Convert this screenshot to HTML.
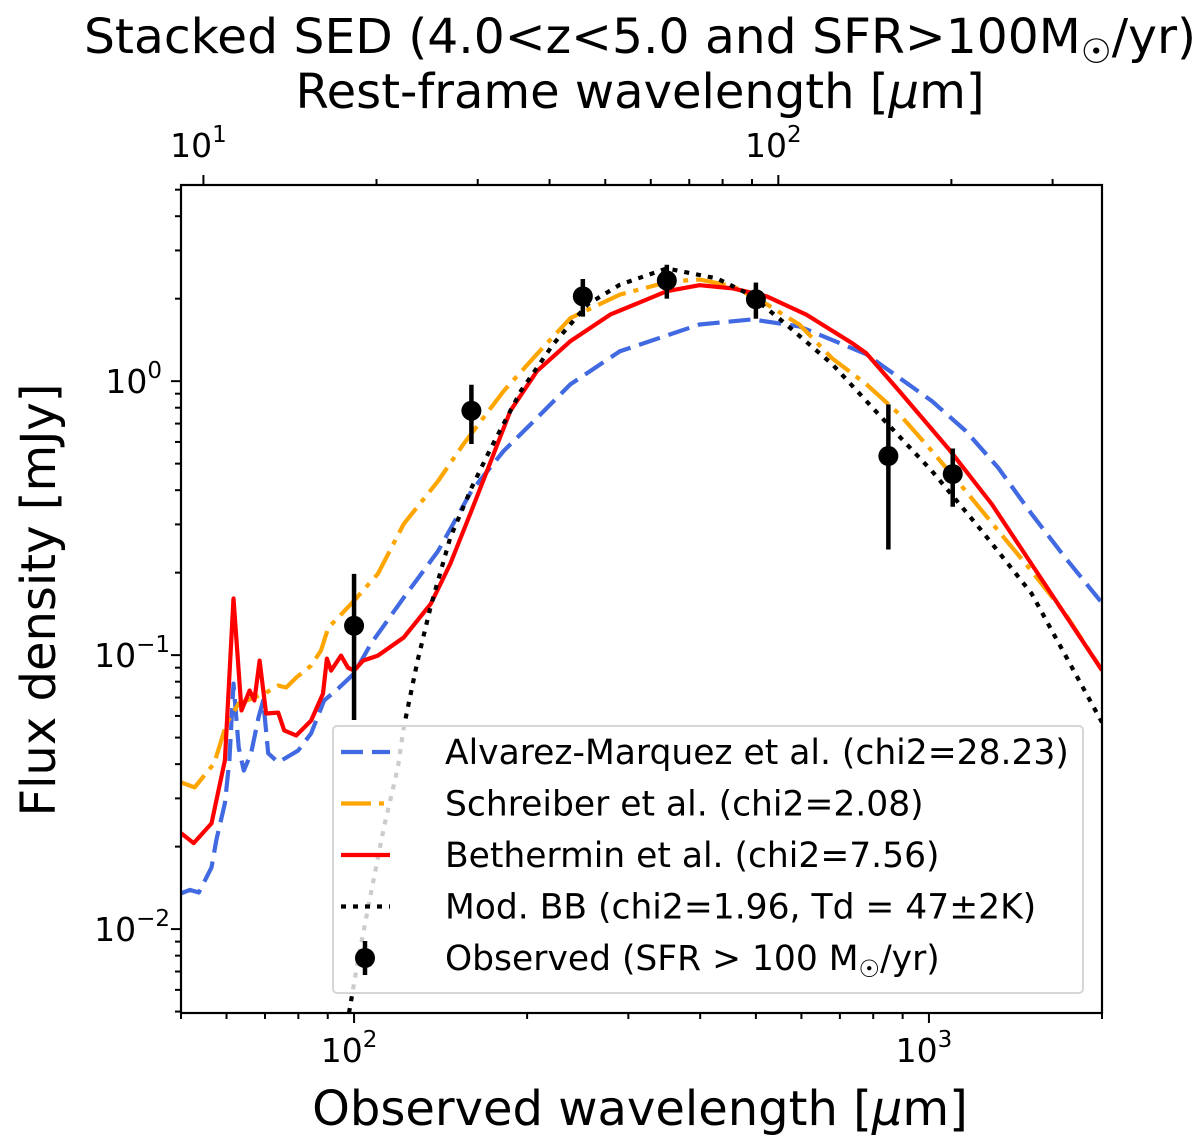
<!DOCTYPE html>
<html><head><meta charset="utf-8"><style>
html,body{margin:0;padding:0;background:#fff;}
svg{display:block;font-family:"DejaVu Sans","Liberation Sans",sans-serif;}
</style></head><body>
<svg id="chart" width="1200" height="1148" viewBox="0 0 1200 1148" xmlns="http://www.w3.org/2000/svg">
<text x="640" y="53" font-size="48" text-anchor="middle" textLength="1112" lengthAdjust="spacingAndGlyphs">Stacked SED (4.0&lt;z&lt;5.0 and SFR&gt;100M<tspan font-size="34" dy="10">☉</tspan><tspan dy="-10">/yr)</tspan></text>
<text x="640" y="108" font-size="48" text-anchor="middle">Rest-frame wavelength [<tspan font-style="italic">μ</tspan>m]</text>
<text x="640" y="1125" font-size="48" text-anchor="middle">Observed wavelength [<tspan font-style="italic">μ</tspan>m]</text>
<text x="0" y="0" font-size="48" text-anchor="middle" transform="translate(55,600) rotate(-90)">Flux density [mJy]</text>
<g id="clipdefs"><clipPath id="pc"><rect x="181" y="185" width="921" height="828"/></clipPath></g>
<g id="marks" clip-path="url(#pc)"></g>
<g id="legend"></g>
<g id="axes"></g>
</svg>
<script>
const redWl=[50,52.6,56.5,59.6,61.7,63.7,65.8,67.1,68.5,70.3,73.8,75.6,79.3,84.2,88.3,89.7,91.2,94.9,97.6,100,103.7,110,122,136,147,160,173,187,208,238,279,350,399,456,522,612,736,778,888,1083,1286,1508,2000];
const redF=[0.0224,0.0206,0.0243,0.0413,0.161,0.0628,0.0743,0.0683,0.0955,0.0612,0.0617,0.0531,0.0509,0.0577,0.0724,0.0971,0.0878,0.0996,0.090,0.0878,0.0955,0.0996,0.116,0.154,0.215,0.336,0.511,0.778,1.087,1.40,1.75,2.13,2.24,2.18,2.04,1.75,1.375,1.265,0.920,0.565,0.356,0.215,0.088];
const orWl=[50,52.8,57.1,60,63,69.8,73.8,76.2,79.3,84.2,87.6,90.2,93.8,100,110,122,140,155,182,208,238,290,354,399,456,522,595,679,778,888,1012,1159,1321,1508,1726,2000];
const orF=[0.0343,0.0329,0.0403,0.0563,0.0666,0.0724,0.0774,0.0762,0.0828,0.0916,0.104,0.126,0.137,0.158,0.198,0.301,0.432,0.589,0.920,1.254,1.70,2.07,2.31,2.35,2.22,1.91,1.61,1.21,0.975,0.758,0.556,0.397,0.284,0.203,0.1417,0.088];
const blWl=[50,51.8,53.7,56.5,57.6,59.6,60.7,61.7,63,64.3,66.2,68.2,69.5,70.9,73.8,80,84.2,88.7,93.8,100,107,122,140,160,182,208,238,290,354,399,493,595,778,1012,1159,1321,1508,1726,2000];
const blF=[0.0135,0.0139,0.0136,0.0168,0.0211,0.0288,0.0413,0.0787,0.046,0.0379,0.0438,0.0592,0.0683,0.0438,0.0406,0.0449,0.0518,0.0683,0.0755,0.0857,0.110,0.162,0.240,0.397,0.556,0.733,0.975,1.285,1.48,1.61,1.68,1.585,1.254,0.846,0.658,0.482,0.328,0.227,0.155];
const bbWl=[98,101.6,107,112.7,119.2,122,129,136,147,160,173,195,222,255,290,350,428,488,556,679,829,1012,1236,1508,2000];
const bbF=[0.00494,0.0077,0.0135,0.0235,0.0389,0.0544,0.0955,0.151,0.268,0.407,0.570,0.920,1.364,1.91,2.25,2.58,2.37,2.07,1.655,1.153,0.733,0.470,0.284,0.168,0.0568];
const obsWl=[100,160,250,350,500,850,1100];
const obsF=[0.128,0.78,2.04,2.33,1.99,0.533,0.458];
const obsErr=[0.07,0.19,0.32,0.33,0.30,0.29,0.11];
const xTickVals=[100,1000];
const xTickLabels=["10","10"];
const xTickExp=["2","3"];
const yTickVals=[1,0.1,0.01];
const yTickExp=["0","−1","−2"];
const topTickVals=[10,100];
const topTickExp=["1","2"];
const zFactor=5.47;

const X0=181,X1=1102,Y0=185,Y1=1013;
const xmin=Math.log10(50),xmax=Math.log10(2000),ymin=Math.log10(0.00494),ymax=Math.log10(5.2);
function sx(v){return X0+(Math.log10(v)-xmin)/(xmax-xmin)*(X1-X0);}
function sy(v){return Y1-(Math.log10(v)-ymin)/(ymax-ymin)*(Y1-Y0);}
const NS="http://www.w3.org/2000/svg";
function mk(tag,attrs,parent){const e=document.createElementNS(NS,tag);for(const k in attrs)e.setAttribute(k,attrs[k]);parent.appendChild(e);return e;}
const marks=document.getElementById('marks');
function line(wl,f,stroke,dash,name){
  const d=wl.map((w,i)=>(i?'L':'M')+sx(w).toFixed(1)+','+sy(f[i]).toFixed(1)).join('');
  const p=mk('path',{d:d,fill:'none',stroke:stroke,'stroke-width':4.2,'stroke-dasharray':dash,'stroke-linejoin':'round'},marks);
  
  
}
line(blWl,blF,'#4169e1','22 9','alvarez-marquez-line');
line(orWl,orF,'#ffa500','30 8 5 8','schreiber-line');
line(redWl,redF,'#ff0000','none','bethermin-line');
line(bbWl,bbF,'#000','5 7','mod-bb-line');
obsWl.forEach((w,i)=>{
  const g=mk('g',{},marks);
  
  
  mk('line',{x1:sx(w),x2:sx(w),y1:sy(obsF[i]+obsErr[i]),y2:sy(Math.max(obsF[i]-obsErr[i],1e-4)),stroke:'#000','stroke-width':4.5},g);
  mk('circle',{cx:sx(w),cy:sy(obsF[i]),r:10,fill:'#000'},g);
});
const lg=document.getElementById('legend');


mk('rect',{x:333,y:726,width:750,height:267,rx:4,fill:'rgba(255,255,255,0.8)',stroke:'#d6d6d6','stroke-width':2},lg);
const legNames=["Alvarez-Marquez et al. (chi2=28.23)","Schreiber et al. (chi2=2.08)","Bethermin et al. (chi2=7.56)","Mod. BB (chi2=1.96, Td = 47±2K)"];
const legCols=['#4169e1','#ffa500','#ff0000','#000'];
const legDash=['22 9','30 8 5 8','none','5 7'];
legNames.forEach((n,i)=>{
  const y=752+i*51.5;
  const g=mk('g',{},lg);
  
  
  mk('line',{x1:341,x2:390,y1:y,y2:y,stroke:legCols[i],'stroke-width':4.2,'stroke-dasharray':legDash[i]},g);
  const t=mk('text',{x:445,y:y+12,'font-size':34.5},g);t.textContent=n;
});
{
  const y=958;
  const g=mk('g',{},lg);
  
  
  mk('line',{x1:365,x2:365,y1:y-17,y2:y+17,stroke:'#000','stroke-width':4.5},g);
  mk('circle',{cx:365,cy:y,r:10,fill:'#000'},g);
  const t=mk('text',{x:445,y:y+12,'font-size':34.5},g);
  t.innerHTML='Observed (SFR &gt; 100 M<tspan font-size="24" dy="7">☉</tspan><tspan dy="-7">/yr)</tspan>';
}
const ax=document.getElementById('axes');
mk('rect',{x:X0,y:Y0,width:X1-X0,height:Y1-Y0,fill:'none',stroke:'#000','stroke-width':2.2},ax);
function tick(x1,y1,x2,y2){mk('line',{x1:x1,y1:y1,x2:x2,y2:y2,stroke:'#000','stroke-width':2},ax);}
for(let d=1;d<=3;d++)for(let m=1;m<10;m++){const v=m*Math.pow(10,d);if(v<50||v>2000)continue;const x=sx(v);tick(x,Y1,x,Y1+(m==1?10:6));}
for(let d=-3;d<=0;d++)for(let m=1;m<10;m++){const v=m*Math.pow(10,d);if(v<0.00494||v>5.2)continue;const y=sy(v);tick(X0,y,X0-(m==1?10:6),y);}
for(let d=0;d<=3;d++)for(let m=1;m<10;m++){const v=m*Math.pow(10,d);const o=v*zFactor;if(o<50||o>2000)continue;const x=sx(o);tick(x,Y0,x,Y0-(m==1?10:6));}
xTickVals.forEach((v,i)=>{const t=mk('text',{x:sx(v)-5,y:1062,'font-size':33,'text-anchor':'middle'},ax);t.innerHTML=xTickLabels[i]+'<tspan font-size="23" dy="-15">'+xTickExp[i]+'</tspan>';});
yTickVals.forEach((v,i)=>{const t=mk('text',{x:i==0?162:170,y:sy(v)+12,'font-size':33,'text-anchor':'end'},ax);t.innerHTML='10<tspan font-size="23" dy="-15">'+yTickExp[i]+'</tspan>';});
topTickVals.forEach((v,i)=>{const t=mk('text',{x:sx(v*zFactor)-5,y:157,'font-size':33,'text-anchor':'middle'},ax);t.innerHTML='10<tspan font-size="23" dy="-15">'+topTickExp[i]+'</tspan>';});
</script>
</body></html>
